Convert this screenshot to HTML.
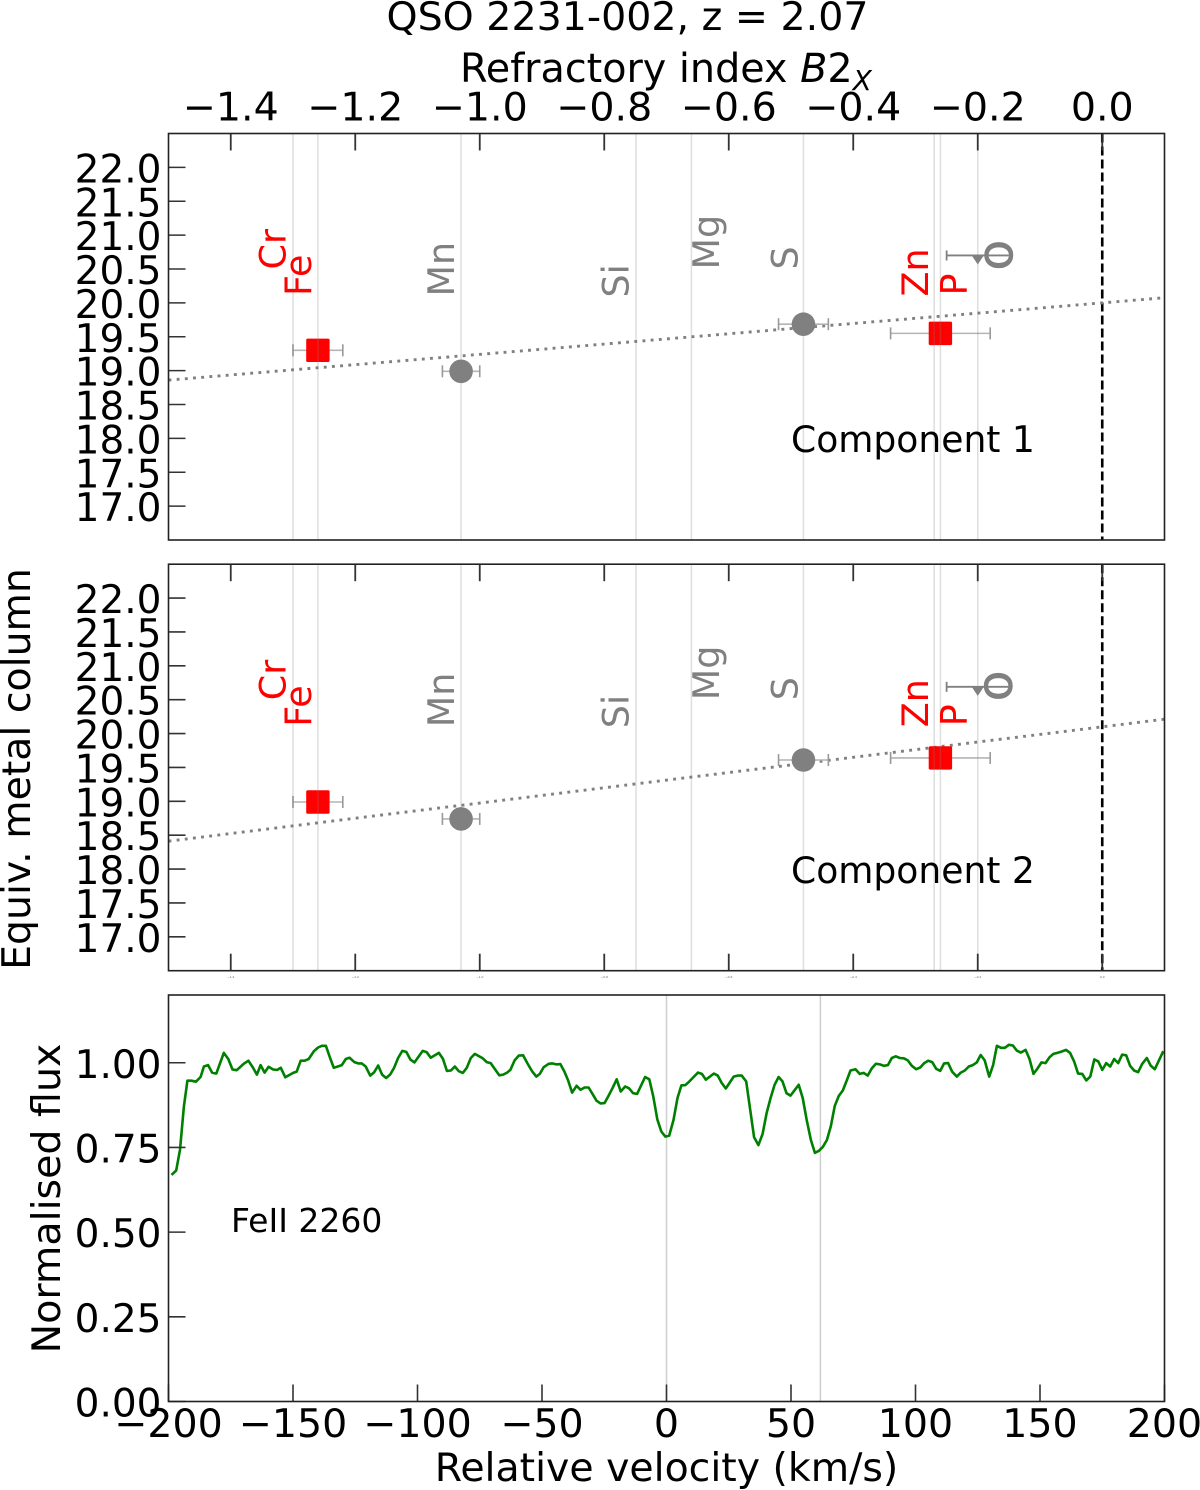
<!DOCTYPE html>
<html lang="en">
<head>
<meta charset="utf-8">
<title>QSO 2231-002 refractory index chart</title>
<style>
html,body{margin:0;padding:0;background:#fff;}
#chart{display:block;width:1200px;height:1490px;font-family:"DejaVu Sans","Liberation Sans",sans-serif;fill:#000;}
</style>
</head>
<body>
<svg id="chart" xmlns="http://www.w3.org/2000/svg" width="1200" height="1490" viewBox="0 0 1200 1490">
  <defs>
    <clipPath id="flux-clip"><rect x="168.5" y="995" width="996" height="406.5"/></clipPath>
  </defs>
  <rect x="0" y="0" width="1200" height="1490" fill="#fff"/>
  <g id="layer-marks"></g>
  <g id="layer-axes"></g>
  <text x="627.5" y="30" font-size="39.5" text-anchor="middle">QSO 2231-002, z = 2.07</text>
  <text x="460" y="82" font-size="39.7">Refractory index <tspan font-style="italic">B</tspan>2<tspan font-style="italic" font-size="28" dy="8">X</tspan></text>
  <text x="30" y="769" font-size="39.4" text-anchor="middle" transform="rotate(-90 30 769)">Equiv. metal column</text>
  <text x="60" y="1198.5" font-size="39.5" text-anchor="middle" transform="rotate(-90 60 1198.5)">Normalised flux</text>
  <text x="666.5" y="1481" font-size="39.4" text-anchor="middle">Relative velocity (km/s)</text>
  <text x="791" y="452" font-size="36.1">Component 1</text>
  <text x="791" y="883" font-size="36.1">Component 2</text>
  <text x="231" y="1232" font-size="33">FeII 2260</text>
</svg>
<script>
// ---- data ----
const elementNames = ['Cr','Fe','Mn','Si','Mg','S','Zn','P','O'];
const elementB2x = [-1.30,-1.26,-1.03,-0.749,-0.66,-0.48,-0.27,-0.26,-0.20];
const measuredElements = ['Fe','Mn','S','P'];
const measuredB2x = [-1.26,-1.03,-0.48,-0.26];
const measuredB2xErr = [0.04,0.03,0.04,0.08];
const measuredKinds = ['square','circle','circle','square'];
const component1Columns = [19.30,18.99,19.685,19.55];
const component2Columns = [18.99,18.74,19.61,19.64];
const limitB2x = -0.20;
const limitB2xErr = 0.05;
const component1Limit = 20.70;
const component2Limit = 20.69;
const component1Fit = [20.0,0.76];
const component2Fit = [20.1,1.125];
const columnTicks = [17.0,17.5,18.0,18.5,19.0,19.5,20.0,20.5,21.0,21.5,22.0];
const columnTickLabels = ['17.0','17.5','18.0','18.5','19.0','19.5','20.0','20.5','21.0','21.5','22.0'];
const b2xTicks = [-1.4,-1.2,-1.0,-0.8,-0.6,-0.4,-0.2,0.0];
const b2xTickLabels = ['\u22121.4','\u22121.2','\u22121.0','\u22120.8','\u22120.6','\u22120.4','\u22120.2','0.0'];
const velocityTicks = [-200,-150,-100,-50,0,50,100,150,200];
const velocityTickLabels = ['\u2212200','\u2212150','\u2212100','\u221250','0','50','100','150','200'];
const fluxTicks = [0,0.25,0.5,0.75,1.0];
const fluxTickLabels = ['0.00','0.25','0.50','0.75','1.00'];
const componentVelocities = [0,61.8];
const fluxVelocity = [-198.8,-196.9,-195.4,-193.8,-192.4,-190.8,-189,-187.1,-185.8,-184.1,-182.5,-180.8,-177.8,-176,-174.3,-172.6,-169.8,-167.9,-166.1,-164.5,-163,-161.4,-159.8,-158,-156.3,-154.9,-153.1,-149.9,-148.5,-146.9,-145.3,-143.7,-141.6,-139.9,-138.4,-136.8,-135.1,-133.6,-130.4,-128.8,-127.3,-125.4,-123.8,-122.4,-120.8,-119,-117.4,-115.8,-114.2,-112.6,-111,-109.4,-107.8,-106.1,-104.5,-102.8,-101.2,-97.9,-96.3,-94.7,-91.4,-89.8,-88.2,-86.6,-85,-83.4,-81.8,-80.2,-78.6,-77,-73.8,-72.2,-70.6,-67.2,-65.6,-64,-62.7,-61,-59.3,-57.6,-55.9,-53.9,-52.3,-50.9,-49.3,-47.3,-45.9,-44.2,-42.6,-41,-39.5,-37.9,-36.1,-34.5,-32.9,-31.3,-29.7,-28.1,-26.5,-24.9,-23.3,-21.7,-20,-18.4,-16.6,-15.1,-13.4,-11.8,-8.6,-6.9,-5.3,-3.7,-2.1,-0.5,1.1,2.8,4.4,6,7.6,9.2,12.6,14.2,15.8,19,20.6,22.2,23.8,27,28.6,30.2,32,33.6,35.2,36.9,38.6,40.2,41.8,43.4,45,46.6,48.2,49.8,53.1,54.7,56.3,58,59.6,61.2,62.8,64.4,66,67.6,69.2,70.8,72.4,73.9,75.9,77.6,79.2,80.8,82.5,84.1,85.7,87.3,88.9,90.5,92.1,93.7,95.3,96.9,98.5,100.3,101.9,103.5,105.1,106.7,108.3,109.9,111.5,113.1,114.7,116.6,118.2,119.8,121.4,123,124.6,126.2,127.8,129.6,131.2,132.7,134.3,135.9,137.5,139.1,140.7,142.3,144.2,145.8,147.4,149,150.6,152.2,153.8,155.4,157,158.6,160.5,162.1,163.7,165.3,167,168.6,170.2,171.8,173.4,175,176.6,178.2,179.8,181.4,183,184.6,186.2,187.8,189.4,191,192.9,194.5,196.1,199.5];
const fluxValues = [0.669,0.682,0.743,0.871,0.947,0.947,0.944,0.958,0.989,0.993,0.971,0.968,1.029,1.011,0.980,0.978,0.997,1.006,0.986,0.965,0.993,0.971,0.988,0.980,0.979,0.985,0.957,0.970,0.974,1.006,1.006,1.011,1.034,1.045,1.050,1.050,1.014,0.985,0.993,1.011,1.015,1.002,0.998,0.998,0.989,0.962,0.972,0.992,0.965,0.955,0.965,0.985,1.014,1.035,1.032,1.009,1.001,1.035,1.031,1.015,1.029,1.012,0.976,0.977,0.989,0.975,0.970,0.985,1.014,1.026,1.013,1.002,0.999,0.963,0.965,0.971,0.979,1.007,1.021,1.022,0.999,0.974,0.959,0.967,0.987,0.997,0.998,0.995,0.996,0.974,0.948,0.912,0.932,0.920,0.927,0.927,0.908,0.888,0.880,0.881,0.902,0.925,0.951,0.915,0.930,0.925,0.910,0.908,0.958,0.951,0.900,0.833,0.797,0.782,0.785,0.831,0.896,0.933,0.934,0.945,0.971,0.967,0.950,0.968,0.962,0.940,0.924,0.959,0.962,0.962,0.945,0.861,0.780,0.757,0.790,0.851,0.896,0.935,0.958,0.945,0.910,0.903,0.935,0.896,0.831,0.772,0.734,0.740,0.752,0.772,0.812,0.873,0.902,0.918,0.948,0.977,0.981,0.967,0.970,0.962,0.984,0.997,0.995,0.991,0.993,1.014,1.019,1.014,1.013,1.007,0.991,0.981,0.986,0.999,1.006,1.002,0.982,0.976,0.998,0.999,0.974,0.959,0.971,0.977,0.989,0.993,1.001,1.023,1.007,0.959,0.994,1.050,1.044,1.044,1.053,1.051,1.036,1.030,1.038,1.011,0.967,0.983,1.001,0.999,1.016,1.026,1.029,1.033,1.038,1.029,1.004,0.968,0.967,0.948,0.959,1.010,1.004,0.979,0.999,0.989,1.011,0.999,1.024,1.022,0.991,0.977,0.972,0.996,1.014,0.991,0.981,1.034];

// ---- layout ----
const NS = 'http://www.w3.org/2000/svg';
const plotLeft = 168.5, plotRight = 1164.5, plotHeight = 406.5;
const panelTops = [133.5, 564.2, 995];
const marks = document.getElementById('layer-marks');
const axes = document.getElementById('layer-axes');
const labelOffsets = {Cr:[-7.5,-60],Fe:[-7,-33.5],Mn:[-7,-33],Si:[-7.5,-32],Mg:[27.5,-60],S:[-6,-60],Zn:[-6,-33],P:[26,-34],O:[34,-60]};
const labelRowTop = 334;

function xB(b){ return plotLeft + (b + 1.5) / 1.6 * (plotRight - plotLeft); }
function xV(v){ return plotLeft + (v + 200) / 400 * (plotRight - plotLeft); }
function yCol(top, v){ return top + (22.5 - v) / 6 * plotHeight; }
function yFlux(f){ return panelTops[2] + (1.2 - f) / 1.2 * plotHeight; }

function make(parent, tag, attrs, name, text){
  const node = document.createElementNS(NS, tag);
  for (const k in attrs) node.setAttribute(k, attrs[k]);
  
  
  if (text !== undefined) node.textContent = text;
  parent.appendChild(node);
  return node;
}
function line(parent, x1, y1, x2, y2, stroke, w, name, extra){
  return make(parent, 'line', Object.assign({x1:x1,y1:y1,x2:x2,y2:y2,stroke:stroke,'stroke-width':w}, extra || {}), name);
}
const tickColor = '#333';
const tickLen = 17;

function errorBar(parent, cx, cy, halfW, name){
  line(parent, cx - halfW, cy, cx + halfW, cy, '#b4b4b4', 1.6, name + '-errorbar');
  line(parent, cx - halfW, cy - 6, cx - halfW, cy + 6, '#999', 1.6, name + '-cap-low');
  line(parent, cx + halfW, cy - 6, cx + halfW, cy + 6, '#999', 1.6, name + '-cap-high');
}

function drawColumnPanel(idx, columns, limit, fit){
  const top = panelTops[idx];
  const tag = 'panel' + (idx + 1);
  const bottom = top + plotHeight;
  // zero line
  line(marks, xB(0), top, xB(0), bottom, '#000', 2.6, tag + '-zero-line', {'stroke-dasharray':'9 4'});
  // fit line
  line(marks, xB(-1.5), yCol(top, fit[0] + fit[1] * -1.5), xB(0.1), yCol(top, fit[0] + fit[1] * 0.1), '#808080', 2.9, tag + '-fit-line', {'stroke-dasharray':'2.9 5.3'});
  // measurements
  measuredB2x.forEach(function(b, i){
    const cx = xB(b), cy = yCol(top, columns[i]);
    const hw = measuredB2xErr[i] / 1.6 * (plotRight - plotLeft);
    const name = tag + '-' + measuredElements[i].toLowerCase();
    errorBar(marks, cx, cy, hw, name);
    if (measuredKinds[i] === 'square') {
      make(marks, 'rect', {x:cx - 11.7, y:cy - 11.7, width:23.4, height:23.4, rx:1.5, fill:'#ff0000'}, name + '-point');
    } else {
      make(marks, 'circle', {cx:cx, cy:cy, r:11.8, fill:'#808080'}, name + '-point');
    }
  });
  // oxygen upper limit
  const lx = xB(limitB2x), ly = yCol(top, limit);
  const lhw = limitB2xErr / 1.6 * (plotRight - plotLeft);
  line(marks, lx - lhw, ly, lx + lhw, ly, '#808080', 1.8, tag + '-o-limit-errorbar');
  line(marks, lx - lhw, ly - 5, lx - lhw, ly + 5, '#808080', 1.8, tag + '-o-limit-cap');
  make(marks, 'polygon', {points:[lx - 6, ly, lx + 6, ly, lx, ly + 9].join(' '), fill:'#808080'}, tag + '-o-limit-marker');
  // element guides and labels
  elementNames.forEach(function(n, i){
    const x = xB(elementB2x[i]);
    line(marks, x, top, x, bottom, 'rgba(128,128,128,0.26)', 1.5, tag + '-guide-' + n.toLowerCase());
    const off = labelOffsets[n];
    const tx = x + off[0], ty = top + labelRowTop / 2 + off[1] + 29;
    const isRed = ['Cr','Fe','Zn','P'].indexOf(n) >= 0;
    const attrs = {x:tx, y:ty, 'font-size':36.5, 'text-anchor':'start', fill:isRed ? '#ff0000' : '#808080', transform:'rotate(-90 ' + tx + ' ' + ty + ')'};
    if (n === 'O') { attrs.stroke = '#808080'; attrs['stroke-width'] = 1.4; }
    make(marks, 'text', attrs, tag + '-label-' + n.toLowerCase(), n);
  });
  // y ticks
  columnTicks.forEach(function(v, i){
    const y = yCol(top, v);
    line(axes, plotLeft, y, plotLeft + tickLen, y, tickColor, 1.6, tag + '-y-tick');
    make(axes, 'text', {x:161.5, y:y + 15, 'font-size':39, 'text-anchor':'end'}, tag + '-y-tick-label', columnTickLabels[i]);
  });
  // top ticks
  b2xTicks.forEach(function(b, i){
    const x = xB(b);
    line(axes, x, top, x, top + tickLen, tickColor, 1.8, tag + '-top-tick');
    if (idx === 0) {
      make(axes, 'text', {x:x, y:120.5, 'font-size':39.5, 'text-anchor':'middle'}, 'top-x-tick-label', b2xTickLabels[i]);
    }
    if (idx === 1) {
      line(axes, x, bottom, x, bottom - tickLen, tickColor, 1.8, tag + '-bottom-tick');
      make(axes, 'text', {x:x, y:978, 'font-size':3, 'text-anchor':'middle', fill:'#666'}, tag + '-tiny-tick-label', b2xTickLabels[i]);
    }
  });
  make(axes, 'rect', {x:plotLeft, y:top, width:plotRight - plotLeft, height:plotHeight, fill:'none', stroke:'#222', 'stroke-width':1.6}, tag + '-frame');
}

function drawFluxPanel(){
  const top = panelTops[2], bottom = top + plotHeight;
  componentVelocities.forEach(function(v){
    line(marks, xV(v), top, xV(v), bottom, '#cfcfcf', 1.5, 'component-velocity-line');
  });
  const pts = fluxVelocity.map(function(v, i){ return xV(v).toFixed(1) + ',' + yFlux(fluxValues[i]).toFixed(1); }).join(' ');
  make(marks, 'polyline', {points:pts, fill:'none', stroke:'#008000', 'stroke-width':2.6, 'stroke-linejoin':'round', 'clip-path':'url(#flux-clip)'}, 'flux-spectrum-line');
  fluxTicks.forEach(function(f, i){
    const y = yFlux(f);
    line(axes, plotLeft, y, plotLeft + tickLen, y, tickColor, 1.6, 'flux-y-tick');
    make(axes, 'text', {x:161.5, y:y + 15, 'font-size':39, 'text-anchor':'end'}, 'flux-y-tick-label', fluxTickLabels[i]);
  });
  velocityTicks.forEach(function(v, i){
    const x = xV(v);
    line(axes, x, bottom, x, bottom - tickLen, tickColor, 1.6, 'velocity-x-tick');
    make(axes, 'text', {x:x, y:1437, 'font-size':39.5, 'text-anchor':'middle'}, 'velocity-x-tick-label', velocityTickLabels[i]);
  });
  make(axes, 'rect', {x:plotLeft, y:top, width:plotRight - plotLeft, height:plotHeight, fill:'none', stroke:'#222', 'stroke-width':1.6}, 'panel3-frame');
}

drawColumnPanel(0, component1Columns, component1Limit, component1Fit);
drawColumnPanel(1, component2Columns, component2Limit, component2Fit);
drawFluxPanel();
</script>
</body>
</html>
